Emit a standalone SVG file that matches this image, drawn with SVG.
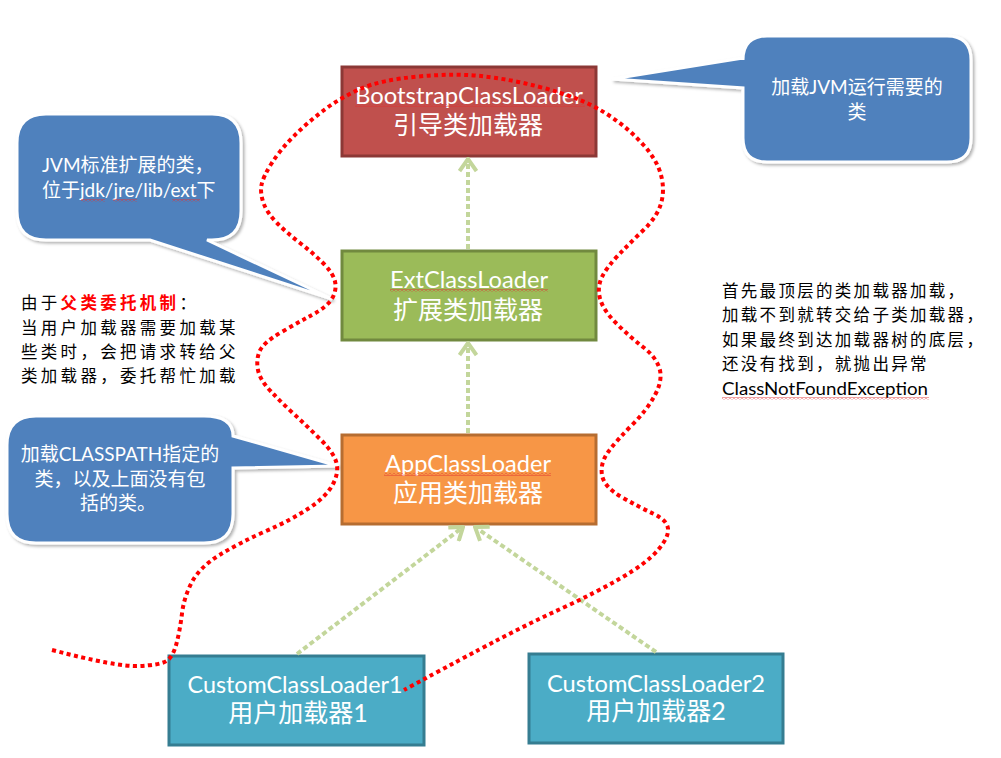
<svg xmlns="http://www.w3.org/2000/svg" width="1001" height="758" viewBox="0 0 1001 758">
<style>
.node rect{stroke-width:3}
.lbl{font-family:Lato,"Noto Sans CJK SC",sans-serif;fill:#fff;text-anchor:middle}
.en{font-size:24px}
.zh{font-size:25px}
.callout path{fill:#4f81bd;stroke:#fff;stroke-width:3;filter:url(#sh)}
.ct{font-family:Lato,"Noto Sans CJK SC",sans-serif;fill:#fff;font-size:19px}
.body{font-family:"Noto Sans CJK SC",sans-serif;fill:#000;font-size:16.5px;letter-spacing:3.3px}
.body2{font-family:"Noto Sans CJK SC",sans-serif;fill:#000;font-size:16.5px;letter-spacing:2.3px}
.conn{stroke:#c3d69b;stroke-width:4;stroke-dasharray:5 3;fill:none}
.loop{stroke:#ff0000;stroke-width:4;stroke-dasharray:4 3.5;fill:none}
.wave{fill:url(#wave)}
</style>
<defs>
<filter id="sh" x="-10%" y="-10%" width="130%" height="130%">
<feDropShadow dx="2" dy="2" stdDeviation="1.5" flood-color="#000" flood-opacity="0.3"/>
</filter>
<pattern id="wave" width="4" height="3" patternUnits="userSpaceOnUse">
<path d="M0 0.5 L2 2.5 L4 0.5" fill="none" stroke="#e03030" stroke-width="0.9"/>
</pattern>
<marker id="chev" viewBox="0 0 16 20" refX="14" refY="10" markerWidth="16" markerHeight="20" markerUnits="userSpaceOnUse" orient="auto">
<path d="M2 1.5 L14 10 L2 18.5" fill="none" stroke="#c3d69b" stroke-width="4"/>
</marker>
</defs>
<rect width="1001" height="758" fill="#fff"/>

<g id="callout-jvm" class="callout">
<path d="M767 36 H947 Q971 36 971 60 V138 Q971 162 947 162 H767 Q743 162 743 138 V88 L612 79 L743 58 V60 Q743 36 767 36 Z"/>
<text class="ct" text-anchor="middle" x="857" y="94">加载JVM运行需要的</text>
<text class="ct" text-anchor="middle" x="857" y="119">类</text>
</g>

<g id="callout-ext" class="callout">
<path d="M46 114 H212 Q241 114 241 143 V211 Q241 240 212 240 H207 L332 299 L150 240 H46 Q17 240 17 211 V143 Q17 114 46 114 Z"/>
<text class="ct" x="42" y="172">JVM标准扩展的类，</text>
<text class="ct" x="42" y="197">位于jdk/jre/lib/ext下</text>
<rect class="wave" x="81" y="199" width="24" height="3"/>
<rect class="wave" x="113" y="199" width="24" height="3"/>
<rect class="wave" x="172" y="199" width="28" height="3"/>
</g>

<g id="callout-app" class="callout">
<path d="M36 416 H204 Q233 416 233 436 L338 466 L233 468 V514 Q233 543 204 543 H36 Q7 543 7 514 V445 Q7 416 36 416 Z"/>
<text class="ct" text-anchor="middle" x="120" y="461" font-size="18">加载CLASSPATH指定的</text>
<text class="ct" text-anchor="middle" x="120" y="486" font-size="18">类，以及上面没有包</text>
<text class="ct" text-anchor="middle" x="118" y="510" font-size="18">括的类。</text>
</g>

<g id="note-delegation">
<text class="body" x="21" y="309">由于<tspan fill="#ff0000" font-weight="bold">父类委托机制</tspan>：</text>
<text class="body" x="21" y="334">当用户加载器需要加载某</text>
<text class="body" x="21" y="358">些类时，会把请求转给父</text>
<text class="body" x="21" y="382">类加载器，委托帮忙加载</text>
</g>

<g id="note-search">
<text class="body2" x="722" y="297">首先最顶层的类加载器加载，</text>
<text class="body2" x="722" y="321">加载不到就转交给子类加载器，</text>
<text class="body2" x="722" y="346">如果最终到达加载器树的底层，</text>
<text class="body2" x="722" y="370">还没有找到，就抛出异常</text>
<text x="722" y="395" font-family="Lato,sans-serif" font-size="18" textLength="206" lengthAdjust="spacingAndGlyphs">ClassNotFoundException</text>
<rect class="wave" x="722" y="397" width="207" height="3"/>
</g>

<g id="bootstrap" class="node">
<rect x="342" y="67" width="254" height="89" fill="#c0504d" stroke="#8c3836"/>
<text class="lbl en" x="469" y="104" textLength="228" lengthAdjust="spacingAndGlyphs">BootstrapClassLoader</text>
<rect class="wave" x="355" y="104" width="230" height="3"/>
<text class="lbl zh" x="468" y="134">引导类加载器</text>
</g>

<g id="ext" class="node">
<rect x="342" y="251" width="254" height="89" fill="#9bbb59" stroke="#71893f"/>
<text class="lbl en" x="469" y="288" textLength="158" lengthAdjust="spacingAndGlyphs">ExtClassLoader</text>
<rect class="wave" x="390" y="289" width="158" height="3"/>
<text class="lbl zh" x="468" y="319">扩展类加载器</text>
</g>

<g id="app" class="node">
<rect x="342" y="435" width="254" height="89" fill="#f79646" stroke="#b66d31"/>
<text class="lbl en" x="468" y="472" textLength="166" lengthAdjust="spacingAndGlyphs">AppClassLoader</text>
<rect class="wave" x="384" y="473" width="167" height="3"/>
<text class="lbl zh" x="468" y="502">应用类加载器</text>
</g>

<g id="custom1" class="node">
<rect x="169" y="656" width="255" height="89" fill="#4bacc6" stroke="#357d91"/>
<text class="lbl en" x="295" y="693" textLength="215" lengthAdjust="spacingAndGlyphs">CustomClassLoader1</text>
<text class="lbl zh" x="298" y="722">用户加载器1</text>
</g>

<g id="custom2" class="node">
<rect x="529" y="654" width="254" height="89" fill="#4bacc6" stroke="#357d91"/>
<text class="lbl en" x="656" y="692" textLength="218" lengthAdjust="spacingAndGlyphs">CustomClassLoader2</text>
<text class="lbl zh" x="656" y="720">用户加载器2</text>
</g>

<g id="connectors">
<line class="conn" x1="468" y1="249" x2="468" y2="159" marker-end="url(#chev)"/>
<line class="conn" x1="468" y1="433" x2="468" y2="343" marker-end="url(#chev)"/>
<line class="conn" x1="297" y1="654" x2="463" y2="527" marker-end="url(#chev)"/>
<line class="conn" x1="656" y1="652" x2="475" y2="527" marker-end="url(#chev)"/>
</g>

<g id="delegation-loop">
<path class="loop" d="M52 650 Q117 667 138.5 666 Q160 665 166.5 661 Q173 657 176.5 643.5 Q180 630 182 613.5 Q184 597 192 582 Q200 567 219.5 555 Q239 543 265 531.5 Q291 520 308.5 508.5 Q326 497 332.5 485 Q339 473 336.5 463 Q334 453 321 440 Q308 427 295 415 Q282 403 271 391.5 Q260 380 258 370 Q256 360 259.5 351.5 Q263 343 280 333 Q297 323 312 315 Q327 307 332 298.5 Q337 290 335 281.5 Q333 273 323 263 Q313 253 300 243 Q287 233 277 223 Q267 213 263.5 203 Q260 193 261.5 185 Q263 177 271.5 163.5 Q280 150 293.5 136.5 Q307 123 323.5 110.5 Q340 98 360 89 Q380 80 418.5 76.5 Q457 73 485 76.5 Q513 80 538 86.5 Q563 93 580 100 Q597 107 613.5 118.5 Q630 130 643.5 145 Q657 160 661 175 Q665 190 661 203.5 Q657 217 643.5 230 Q630 243 618.5 255 Q607 267 602 277 Q597 287 600 298.5 Q603 310 616.5 323.5 Q630 337 643 347 Q656 357 659.5 368.5 Q663 380 655 395 Q647 410 632 425 Q617 440 608.5 451.5 Q600 463 602 475 Q604 487 621.5 497 Q639 507 653 513.5 Q667 520 668 528.5 Q669 537 658 550 Q647 563 621 578 Q595 593 562.5 608 Q530 623 497.5 640 Q465 657 404 690"/>
</g>
</svg>
